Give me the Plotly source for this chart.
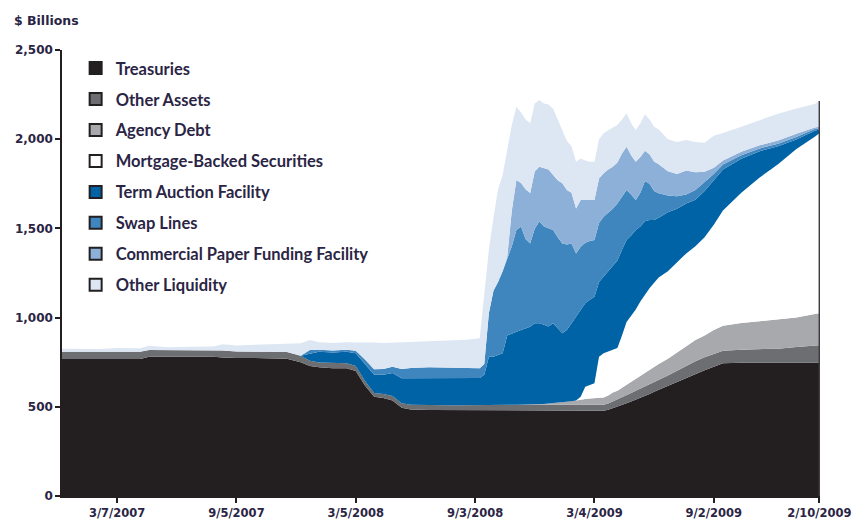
import plotly.graph_objects as go

dates = [
    "2006-12-13", "2007-01-03", "2007-02-07", "2007-03-07", "2007-04-11", "2007-04-25",
    "2007-05-23", "2007-06-27", "2007-08-01", "2007-08-15", "2007-09-05", "2007-10-03",
    "2007-10-31", "2007-11-21", "2007-12-12", "2007-12-26", "2008-01-09", "2008-01-30",
    "2008-02-20", "2008-03-05", "2008-03-19", "2008-04-02", "2008-04-16", "2008-04-30",
    "2008-05-14", "2008-05-28", "2008-06-25", "2008-07-23", "2008-08-20", "2008-09-10",
    "2008-09-17", "2008-09-24", "2008-10-01", "2008-10-08", "2008-10-15", "2008-10-22",
    "2008-10-29", "2008-11-05", "2008-11-12", "2008-11-19", "2008-11-26", "2008-12-03",
    "2008-12-10", "2008-12-17", "2008-12-24", "2008-12-31", "2009-01-07", "2009-01-14",
    "2009-01-21", "2009-01-28", "2009-02-04", "2009-02-11", "2009-02-18", "2009-02-25",
    "2009-03-04", "2009-03-11", "2009-03-18", "2009-03-25", "2009-04-01", "2009-04-08",
    "2009-04-15", "2009-04-22", "2009-04-29", "2009-05-06", "2009-05-13", "2009-05-20",
    "2009-05-27", "2009-06-03", "2009-06-10", "2009-06-24", "2009-07-08", "2009-07-22",
    "2009-08-05", "2009-08-19", "2009-09-02", "2009-09-16", "2009-10-14", "2009-11-11",
    "2009-12-09", "2010-01-06", "2010-02-03", "2010-02-10",
]

treasuries = [
    768, 768, 768, 768, 768, 780, 781, 781, 781, 777, 773, 773, 772, 770, 750, 728, 722, 716,
    716, 700, 620, 557, 549, 535, 495, 485, 482, 482, 482, 482, 482, 482, 482, 482, 482, 482,
    482, 482, 482, 482, 482, 482, 482, 482, 482, 481, 480, 480, 479, 479, 478, 478, 478, 478,
    478, 478, 478, 484, 492, 500, 510, 520, 530, 540, 550, 560, 572, 585, 596, 618, 640, 665,
    685, 705, 725, 744, 747, 747, 747, 747, 747, 747,
]
other_assets = [
    40, 40, 40, 40, 40, 38, 37, 37, 37, 38, 37, 37, 37, 37, 36, 30, 26, 28,
    28, 28, 25, 21, 23, 25, 25, 27, 26, 26, 26, 28, 30, 30, 30, 30, 30, 30,
    30, 30, 30, 30, 30, 30, 30, 31, 31, 31, 32, 32, 32, 32, 33, 33, 33, 32,
    32, 33, 33, 35, 38, 40, 42, 45, 47, 50, 52, 53, 55, 55, 56, 58, 62, 65,
    70, 73, 72, 70, 73, 75, 79, 88, 96, 98,
]
agency_debt = [
    0, 0, 0, 0, 0, 0, 0, 0, 0, 0, 0, 0, 0, 0, 0, 0, 0, 0,
    0, 0, 0, 0, 0, 0, 0, 0, 0, 0, 0, 0, 0, 0, 0, 0, 0, 0,
    0, 0, 0, 0, 0, 0, 0, 3, 5, 8, 10, 13, 17, 20, 24, 30, 33, 36,
    38, 39, 41, 45, 50, 50, 55, 60, 65, 70, 73, 77, 81, 85, 88, 94, 103, 115,
    120, 122, 133, 141, 150, 158, 164, 165, 177, 179,
]
mbs = [
    0, 0, 0, 0, 0, 0, 0, 0, 0, 0, 0, 0, 0, 0, 0, 0, 0, 0,
    0, 0, 0, 0, 0, 0, 0, 0, 0, 0, 0, 0, 0, 0, 0, 0, 0, 0,
    0, 0, 0, 0, 0, 0, 0, 0, 0, 0, 0, 0, 0, 0, 0, 16, 69, 78,
    84, 230, 248, 246, 240, 240, 293, 350, 368, 385, 415, 440, 457, 470, 485, 490, 505, 515,
    525, 550, 590, 645, 730, 805, 870, 945, 994, 1009,
]
taf = [
    0, 0, 0, 0, 0, 0, 0, 0, 0, 0, 0, 0, 0, 0, 0, 40, 60, 60,
    64, 72, 95, 102, 108, 130, 140, 148, 154, 152, 150, 152, 168, 269, 269, 278, 288, 388,
    400, 408, 418, 428, 437, 456, 456, 444, 432, 448, 418, 387, 402, 437, 475, 486, 467, 476,
    485, 420, 429, 450, 470, 490, 480, 460, 450, 446, 420, 410, 382, 352, 335, 330, 300, 280,
    260, 260, 250, 230, 190, 148, 100, 53, 33, 22,
]
swap_lines = [
    0, 0, 0, 0, 0, 0, 0, 0, 0, 0, 0, 0, 0, 0, 0, 20, 12, 12,
    12, 14, 25, 30, 32, 35, 52, 58, 60, 60, 60, 54, 60, 243, 369, 410, 460, 430,
    488, 571, 580, 500, 467, 532, 570, 550, 550, 523, 510, 504, 480, 448, 350, 354, 340, 330,
    318, 330, 337, 330, 320, 320, 300, 280, 230, 168, 190, 225, 203, 163, 137, 95, 70, 50,
    55, 50, 35, 28, 20, 15, 15, 14, 10, 6,
]
cpff = [
    0, 0, 0, 0, 0, 0, 0, 0, 0, 0, 0, 0, 0, 0, 0, 0, 0, 0,
    0, 0, 0, 0, 0, 0, 0, 0, 0, 0, 0, 0, 0, 0, 0, 0, 0, 10,
    200, 280, 244, 280, 282, 320, 308, 330, 330, 309, 320, 337, 305, 284, 252, 262, 240, 229,
    224, 250, 243, 240, 236, 230, 240, 243, 220, 215, 200, 170, 165, 165, 163, 135, 125, 135,
    100, 58, 35, 22, 20, 18, 18, 18, 9, 9,
]
other_liquidity = [
    18, 18, 16, 22, 20, 24, 16, 18, 20, 35, 34, 38, 43, 49, 70, 56, 42, 42,
    42, 46, 97, 150, 146, 135, 150, 148, 146, 152, 158, 168, 390, 356, 410, 520, 540, 610,
    480, 411, 396, 390, 391, 380, 374, 360, 365, 370, 340, 298, 275, 260, 262, 233, 220, 215,
    215, 220, 224, 220, 219, 210, 190, 187, 180, 177, 190, 205, 195, 195, 195, 180, 180, 170,
    170, 162, 180, 155, 140, 140, 150, 142, 132, 144,
]

series_names = [
    "Treasuries", "Other Assets", "Agency Debt", "Mortgage-Backed Securities",
    "Term Auction Facility", "Swap Lines", "Commercial Paper Funding Facility", "Other Liquidity",
]
series_values = [treasuries, other_assets, agency_debt, mbs, taf, swap_lines, cpff, other_liquidity]
series_colors = ["#231f20", "#6d6e71", "#a7a9ac", "#ffffff", "#0063a6", "#3f86bf", "#8cb0d8", "#dde7f3"]

tick_dates = ["2007-03-07", "2007-09-05", "2008-03-05", "2008-09-03", "2009-03-04", "2009-09-02", "2010-02-10"]
tick_labels = ["3/7/2007", "9/5/2007", "3/5/2008", "9/3/2008", "3/4/2009", "9/2/2009", "2/10/2009"]
y_ticks = [0, 500, 1000, 1500, 2000, 2500]

text_color = "#2b2545"
axis_font = "DejaVu Sans"
legend_font = "Lato"

fig = go.Figure()
for name, vals, col in zip(series_names, series_values, series_colors):
    fig.add_trace(go.Scatter(
        x=dates, y=vals, name=name, stackgroup="one", mode="lines",
        line=dict(width=0, color=col), fillcolor=col, showlegend=False,
        hoverinfo="skip",
    ))

# right-hand edge of the stacked area
total_last = sum(v[-1] for v in series_values)
fig.add_trace(go.Scatter(
    x=[dates[-1], dates[-1]], y=[0, total_last], mode="lines",
    line=dict(color="#3c3c3c", width=1.5), showlegend=False, hoverinfo="skip",
))

# legend entries (square swatches)
for i, (name, col) in enumerate(zip(series_names, series_colors)):
    fig.add_trace(go.Scatter(
        x=[None], y=[None], name=name, mode="markers",
        marker=dict(symbol="square", size=13, color=col, line=dict(color="#231f20", width=1.5)),
        legendgroup=f"g{i}", showlegend=True,
    ))

fig.update_layout(
    width=862, height=524,
    margin=dict(l=54, r=50, t=42, b=36),
    paper_bgcolor="white", plot_bgcolor="white",
    font=dict(family=axis_font, color=text_color),
    showlegend=True,
    legend=dict(
        x=0.018, y=0.998, xanchor="left", yanchor="top",
        bgcolor="rgba(0,0,0,0)", traceorder="grouped", tracegroupgap=6.5,
        font=dict(size=16.5, color=text_color, family=legend_font, weight=700),
        itemsizing="constant",
    ),
    xaxis=dict(
        type="date", range=["2006-12-13", "2010-02-11"],
        tickvals=tick_dates, ticktext=tick_labels, automargin=False,
        showgrid=False, zeroline=False,
        showline=True, linecolor="#231f20", linewidth=1.5,
        ticks="outside", ticklen=5, tickwidth=1.5, tickcolor="#231f20",
        tickfont=dict(size=11.5, color=text_color, family=axis_font, weight=700),
    ),
    yaxis=dict(
        range=[0, 2500], tickvals=y_ticks, tickformat=",", automargin=False,
        showgrid=False, zeroline=False,
        showline=True, linecolor="#231f20", linewidth=1.5,
        ticks="outside", ticklen=5, tickwidth=1.5, tickcolor="#231f20",
        tickfont=dict(size=12, color=text_color, family=axis_font, weight=700),
    ),
    annotations=[dict(
        text="$ Billions", xref="paper", yref="paper", x=-0.066, y=1.067,
        xanchor="left", yanchor="middle", showarrow=False,
        font=dict(size=12.5, color=text_color, family=axis_font, weight=700),
    )],
)

fig.write_html("out.html")
